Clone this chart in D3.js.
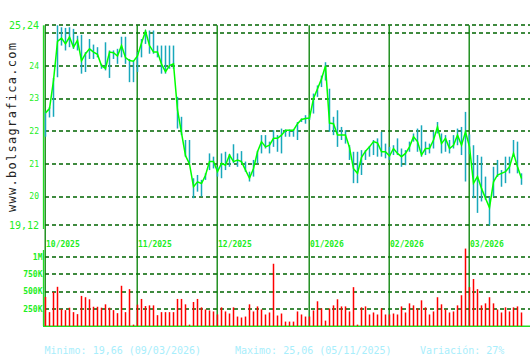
<!DOCTYPE html>
<html>
<head>
<meta charset="utf-8">
<script src="https://cdn.jsdelivr.net/npm/d3@7"></script>
<style>
  body { margin: 0; background: #fff; }
  text { font-family: "DejaVu Sans Mono", monospace; }
</style>
</head>
<body>
<div id="container"></div>
<script>
/**
 * CONSTANTS AND GLOBALS
 * */
const width = 530,
  height = 360,
  margin = { top: 25, left: 45, right: 0 };

// daily closes, oct 2025 -> mar 2026 (one value per trading session)
const closes = [
  22.56, 22.69, 23.55, 24.75, 24.85, 24.67, 24.88, 24.57, 24.78, 24.15,
  24.37, 24.52, 24.42, 24.35, 24.0, 23.92, 24.42, 24.4, 24.3, 24.62,
  24.25, 24.16, 24.14, 24.3, 24.7, 25.06, 24.62, 24.42, 24.42, 24.05,
  23.82, 24.01, 24.06, 22.65, 21.95, 21.25, 21.0, 20.3, 20.45, 20.4,
  20.65, 21.07, 21.07, 20.76, 21.02, 20.96, 21.27, 21.07, 21.12, 21.07,
  20.81, 20.56, 20.86, 21.37, 21.68, 21.52, 21.57, 21.78, 21.78, 21.88,
  22.03, 22.03, 22.03, 22.23, 22.36, 22.39, 22.4, 23.0, 23.3, 23.6,
  24.0, 22.25, 22.23, 21.88, 21.88, 21.88, 21.5, 20.85, 20.71, 21.2,
  21.39, 21.52, 21.68, 21.64, 21.37, 21.37, 21.24, 21.47, 21.32, 21.22,
  21.32, 21.52, 21.83, 21.68, 21.27, 21.47, 21.47, 21.73, 22.13, 21.62,
  21.78, 21.47, 21.57, 21.88, 21.57, 21.98, 21.52, 20.41, 20.61, 20.25,
  19.95, 19.66, 20.45, 20.66, 20.71, 20.76, 20.91, 21.32, 20.91, 20.55,
];
const highs = [
  22.6, 22.74, 23.63, 25.24, 25.18, 25.16, 25.18, 25.13, 24.92, 24.95,
  24.42, 24.82, 24.65, 24.57, 24.06, 24.72, 24.47, 24.47, 24.52, 24.89,
  24.89, 24.21, 24.16, 24.42, 24.82, 25.1, 25.08, 25.08, 24.62, 24.62,
  24.62, 24.62, 24.62, 23.05, 22.44, 21.73, 21.73, 20.56, 20.66, 20.51,
  20.71, 21.32, 21.22, 20.91, 21.32, 21.37, 21.3, 21.6, 21.32, 21.39,
  21.07, 20.76, 21.12, 21.4, 21.88, 21.88, 21.68, 22.03, 21.88, 22.08,
  22.05, 22.05, 22.05, 22.28, 22.39, 22.49, 22.49, 23.15, 23.4, 23.7,
  24.11, 23.3, 22.44, 22.64, 22.13, 22.03, 21.57, 21.37, 21.37, 21.42,
  21.42, 21.55, 21.73, 21.78, 21.98, 21.62, 21.52, 21.57, 21.78, 21.47,
  21.42, 21.68, 21.93, 22.08, 22.18, 21.68, 21.62, 21.98, 22.28, 21.93,
  21.88, 21.73, 21.88, 22.08, 22.13, 22.59, 21.9, 21.57, 21.27, 21.22,
  20.61, 20.0, 20.91, 21.12, 20.81, 21.22, 21.22, 21.73, 21.68, 20.71,
];
const lows = [
  21.83, 22.42, 22.44, 23.65, 24.62, 24.47, 24.57, 24.52, 24.47, 23.76,
  23.81, 24.21, 24.21, 24.26, 23.91, 23.86, 23.63, 24.21, 24.06, 24.26,
  24.06, 23.5, 23.5, 23.81, 24.26, 24.67, 24.37, 24.37, 24.26, 23.76,
  23.76, 23.91, 23.91, 22.08, 21.88, 21.22, 21.02, 19.95, 20.15, 20.0,
  20.51, 20.81, 20.86, 20.61, 20.56, 20.81, 20.91, 21.02, 20.91, 21.02,
  20.76, 20.46, 20.61, 21.02, 21.32, 21.47, 21.32, 21.52, 21.37, 21.32,
  21.83, 21.83, 21.83, 21.73, 22.28, 22.23, 22.34, 22.54, 23.05, 23.35,
  23.55, 21.98, 21.88, 21.52, 21.73, 21.62, 21.12, 20.41, 20.41, 20.66,
  21.12, 21.22, 21.27, 21.22, 21.22, 21.17, 21.12, 21.27, 21.27, 20.91,
  20.96, 21.37, 21.68, 21.37, 21.22, 21.27, 21.32, 21.47, 21.93, 21.32,
  21.37, 21.32, 21.47, 21.57, 21.27, 20.46, 21.3, 19.95, 19.5, 19.85,
  19.9, 19.12, 20.0, 20.6, 20.3, 20.41, 20.71, 21.22, 20.71, 20.36,
];
// volume in thousands of shares
const volumes = [
  421, 201, 495, 568, 245, 230, 265, 201, 172, 436,
  417, 387, 279, 279, 265, 314, 265, 230, 186, 583,
  201, 534, 20, 309, 392, 289, 299, 299, 157, 201,
  201, 201, 201, 392, 392, 314, 20, 348, 392, 270,
  240, 225, 211, 167, 270, 211, 181, 270, 137, 123,
  137, 314, 211, 284, 240, 167, 196, 902, 152, 181,
  64, 64, 64, 211, 167, 137, 137, 225, 358, 255,
  78, 255, 299, 387, 284, 284, 211, 563, 20, 270,
  284, 167, 196, 167, 255, 167, 167, 181, 167, 284,
  196, 328, 299, 255, 372, 270, 167, 211, 417, 314,
  240, 196, 211, 299, 446, 1122, 563, 681, 534, 299,
  328, 417, 328, 240, 196, 270, 211, 270, 284, 196,
];

// first session of each month
const monthStarts = [0, 23, 43, 66, 86, 106];
const monthLabels = ["10/2025", "11/2025", "12/2025", "01/2026", "02/2026", "03/2026"];

const priceGrid = [25.24, 25, 24, 23, 22, 21, 20, 19.12];
const priceLabels = ["25,24", "", "24", "23", "22", "21", "20", "19,12"];
const volGrid = [1000, 750, 500, 250];
const volLabels = ["1M", "750K", "500K", "250K"];

const footer = [
  "Minimo: 19,66 (09/03/2026)",
  "Maximo: 25,06 (05/11/2025)",
  "Variación: 27%",
];

let svg;

init();

function init() {
  svg = d3
    .select("#container")
    .append("svg")
    .attr("width", width)
    .attr("height", height);

  const x = d3.scaleLinear().domain([0, closes.length - 1]).range([45.5, 521.5]);
  const y = d3.scaleLinear().domain([19.12, 25.24]).range([225.3, 25.3]);
  const yVol = d3.scaleLinear().domain([0, 1000]).range([326, 257]);

  // horizontal dashed grid, price panel
  svg
    .selectAll(".pgrid")
    .data(priceGrid)
    .join("line")
    .attr("class", "pgrid")
    .attr("x1", 45)
    .attr("x2", width)
    .attr("y1", (d) => Math.round(y(d)))
    .attr("y2", (d) => Math.round(y(d)))
    .attr("stroke", "#006400")
    .attr("stroke-width", 1.6)
    .attr("stroke-dasharray", "4,3");

  svg
    .selectAll(".vgrid")
    .data(volGrid)
    .join("line")
    .attr("class", "vgrid")
    .attr("x1", 45)
    .attr("x2", width)
    .attr("y1", (d) => Math.round(yVol(d)))
    .attr("y2", (d) => Math.round(yVol(d)))
    .attr("stroke", "#006400")
    .attr("stroke-width", 1.6)
    .attr("stroke-dasharray", "4,3");

  // month separators run through both panels
  svg
    .selectAll(".month")
    .data(monthStarts)
    .join("line")
    .attr("class", "month")
    .attr("x1", (d) => x(d) - 0.3)
    .attr("x2", (d) => x(d) - 0.3)
    .attr("y1", y(25.24))
    .attr("y2", 326)
    .attr("stroke", "#008000")
    .attr("stroke-width", 1.3);

  svg
    .selectAll(".mlabel")
    .data(monthStarts)
    .join("text")
    .attr("class", "mlabel")
    .attr("x", (d) => x(d) + 0.5)
    .attr("y", 246.5)
    .attr("font-size", 8)
    .attr("font-weight", "bold")
    .attr("fill", "#22ee22")
    .text((d, i) => monthLabels[i]);

  // left axis lines
  svg.append("line")
    .attr("x1", 43.5).attr("x2", 43.5)
    .attr("y1", y(25.24)).attr("y2", 229)
    .attr("stroke", "#22dd22").attr("stroke-width", 1.3);
  svg.append("line")
    .attr("x1", 43.5).attr("x2", 43.5)
    .attr("y1", 250).attr("y2", 326)
    .attr("stroke", "#22dd22").attr("stroke-width", 1.3);
  svg.append("line")
    .attr("x1", 43).attr("x2", width)
    .attr("y1", 326.3).attr("y2", 326.3)
    .attr("stroke", "#22dd22").attr("stroke-width", 1.5);

  // price labels: the extremes are printed a bit larger
  svg
    .selectAll(".plabel")
    .data(priceGrid)
    .join("text")
    .attr("class", "plabel")
    .attr("x", 39)
    .attr("y", (d) => y(d))
    .attr("dy", "0.35em")
    .attr("text-anchor", "end")
    .attr("font-size", (d, i) => (priceLabels[i].length > 2 ? 10 : 8))
    .attr("fill", "#22ee22")
    .text((d, i) => priceLabels[i]);

  svg
    .selectAll(".vlabel")
    .data(volGrid)
    .join("text")
    .attr("class", "vlabel")
    .attr("x", 42.5)
    .attr("y", (d) => yVol(d))
    .attr("dy", "0.35em")
    .attr("text-anchor", "end")
    .attr("font-size", 8)
    .attr("font-weight", "bold")
    .attr("fill", "#22ee22")
    .text((d, i) => volLabels[i]);

  // volume bars
  svg
    .selectAll(".vol")
    .data(volumes)
    .join("rect")
    .attr("class", "vol")
    .attr("x", (d, i) => x(i) - 0.75)
    .attr("width", 1.5)
    .attr("y", (d) => yVol(d))
    .attr("height", (d) => 326 - yVol(d))
    .attr("fill", "#ff0000");

  // daily high-low range
  svg
    .selectAll(".hl")
    .data(highs)
    .join("rect")
    .attr("class", "hl")
    .attr("x", (d, i) => x(i) - 0.75)
    .attr("width", 1.5)
    .attr("y", (d) => y(d))
    .attr("height", (d, i) => Math.max(1, y(lows[i]) - y(d)))
    .attr("fill", "#18a8bc");

  // close line
  const line = d3
    .line()
    .x((d, i) => x(i))
    .y((d) => y(d));

  svg
    .append("path")
    .datum(closes)
    .attr("d", line)
    .attr("fill", "none")
    .attr("stroke", "#00ff00")
    .attr("stroke-width", 1.5);

  // site watermark
  svg
    .append("text")
    .attr("transform", "translate(16,212) rotate(-90)")
    .attr("font-size", 12)
    .attr("textLength", 169)
    .attr("lengthAdjust", "spacing")
    .attr("fill", "#222")
    .text("www.bolsagrafica.com");

  svg
    .selectAll(".footer")
    .data(footer)
    .join("text")
    .attr("class", "footer")
    .attr("x", (d, i) => [44.5, 235, 420][i])
    .attr("y", 354)
    .attr("font-size", 10)
    .attr("fill", "#a8eefc")
    .text((d) => d);
}
</script>
</body>
</html>
